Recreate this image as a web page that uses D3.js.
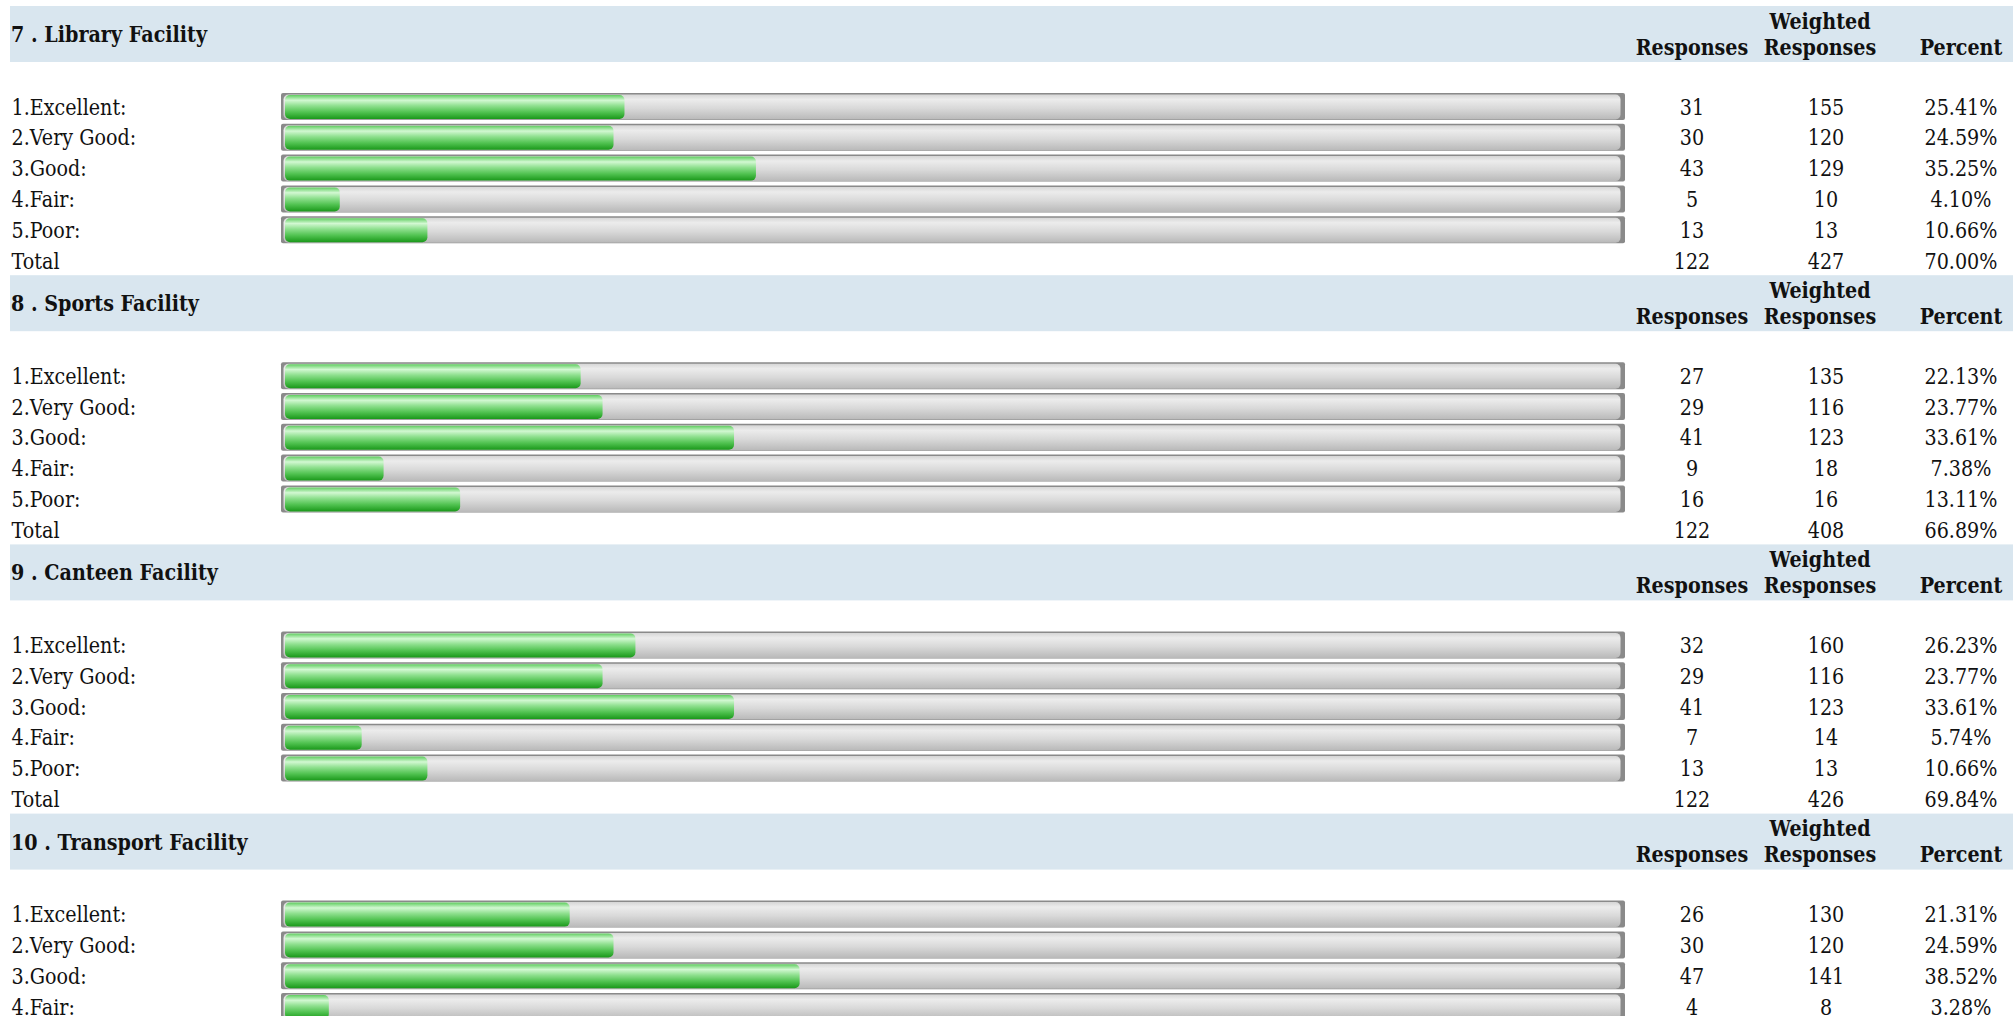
<!DOCTYPE html>
<html>
<head>
<meta charset="utf-8">
<script src="https://cdn.jsdelivr.net/npm/d3@7"></script>
<style>
  body { margin: 0; background: #fff; overflow: hidden; }
  text { font-family: "DejaVu Serif", serif; font-size: 22px; fill: #111; }
</style>
</head>
<body>
<div id="survey"></div>
<script>
// survey data, one array per thing
var sections = ["7 . Library Facility", "8 . Sports Facility", "9 . Canteen Facility", "10 . Transport Facility"];
var options = ["1.Excellent:", "2.Very Good:", "3.Good:", "4.Fair:", "5.Poor:"];
var responses = [
    [31, 30, 43, 5, 13],
    [27, 29, 41, 9, 16],
    [32, 29, 41, 7, 13],
    [26, 30, 47, 4]
];
var weighted = [
    [155, 120, 129, 10, 13],
    [135, 116, 123, 18, 16],
    [160, 116, 123, 14, 13],
    [130, 120, 141, 8]
];
var percents = [
    [25.41, 24.59, 35.25, 4.10, 10.66],
    [22.13, 23.77, 33.61, 7.38, 13.11],
    [26.23, 23.77, 33.61, 5.74, 10.66],
    [21.31, 24.59, 38.52, 3.28]
];
var totalResponses = [122, 122, 122];
var totalWeighted = [427, 408, 426];
var totalPercent = [70.00, 66.89, 69.84];

var width = 2013, height = 1016;
var SX = 0.87; // text looks squeezed sideways in the original

var svg = d3.select("#survey").append("svg")
    .attr("width", width)
    .attr("height", height);

var defs = svg.append("defs");
var gGreen = defs.append("linearGradient").attr("id", "green").attr("x1", 0).attr("y1", 0).attr("x2", 0).attr("y2", 1);
[["0%", "#5fcd5f"], ["22%", "#d2f8d2"], ["45%", "#8fe08f"], ["72%", "#50c250"], ["100%", "#1a981a"]].forEach(function(s) {
    gGreen.append("stop").attr("offset", s[0]).attr("stop-color", s[1]);
});
var gGray = defs.append("linearGradient").attr("id", "gray").attr("x1", 0).attr("y1", 0).attr("x2", 0).attr("y2", 1);
[["0%", "#d6d6d6"], ["20%", "#ececec"], ["55%", "#d9d9d9"], ["100%", "#b9b9b9"]].forEach(function(s) {
    gGray.append("stop").attr("offset", s[0]).attr("stop-color", s[1]);
});

// layout scales
var sectionY = d3.scaleLinear().domain([0, 1]).range([6, 275.2]);
var rowY = d3.scaleLinear().domain([0, 1]).range([108.5, 139.3]);
var barX = d3.scaleLinear().domain([0, 100]).range([285, 1621]);
var colX = {resp: 1692, wt: 1826, pct: 1961};

function txt(g, x, y, s, anchor, bold) {
    return g.append("text")
        .attr("transform", "translate(" + x + "," + y + ") scale(" + SX + ",1)")
        .attr("text-anchor", anchor || "start")
        .style("font-weight", bold ? "bold" : "normal")
        .text(s);
}

sections.forEach(function(title, k) {
    var g = svg.append("g").attr("transform", "translate(0," + sectionY(k) + ")");

    g.append("rect")
        .attr("x", 10).attr("y", 0)
        .attr("width", width - 10).attr("height", 56)
        .style("fill", "#d9e6ef");
    txt(g, 11, 36, title, "start", true);
    txt(g, colX.resp, 48.5, "Responses", "middle", true);
    txt(g, 1820, 22.7, "Weighted", "middle", true);
    txt(g, 1820, 48.5, "Responses", "middle", true);
    txt(g, colX.pct, 48.5, "Percent", "middle", true);

    var rows = responses[k].map(function(r, i) {
        return {label: options[i], resp: r, wt: weighted[k][i], pct: percents[k][i]};
    });

    var row = g.selectAll(".row")
        .data(rows)
        .enter().append("g")
        .attr("class", "row")
        .attr("transform", function(d, i) { return "translate(0," + rowY(i) + ")"; });

    // track
    row.append("rect")
        .attr("x", 281).attr("y", -21.5)
        .attr("width", 1344).attr("height", 27)
        .attr("rx", 2)
        .style("fill", "#8a8a8a");
    row.append("rect")
        .attr("x", 283.5).attr("y", -20)
        .attr("width", 1337).attr("height", 25)
        .attr("rx", 5)
        .style("fill", "url(#gray)");
    // green fill
    row.append("rect")
        .attr("x", barX(0)).attr("y", -19.5)
        .attr("width", function(d) { return barX(d.pct) - barX(0); })
        .attr("height", 24)
        .attr("rx", 5)
        .style("fill", "url(#green)");

    row.each(function(d) {
        var r = d3.select(this);
        txt(r, 11.5, 0, d.label, "start");
        txt(r, colX.resp, 0, d.resp, "middle");
        txt(r, colX.wt, 0, d.wt, "middle");
        txt(r, colX.pct, 0, d.pct.toFixed(2) + "%", "middle");
    });

    if (k < totalResponses.length) {
        var t = g.append("g").attr("transform", "translate(0," + rowY(5) + ")");
        txt(t, 11.5, 0, "Total", "start");
        txt(t, colX.resp, 0, totalResponses[k], "middle");
        txt(t, colX.wt, 0, totalWeighted[k], "middle");
        txt(t, colX.pct, 0, totalPercent[k].toFixed(2) + "%", "middle");
    }
});
</script>
</body>
</html>
